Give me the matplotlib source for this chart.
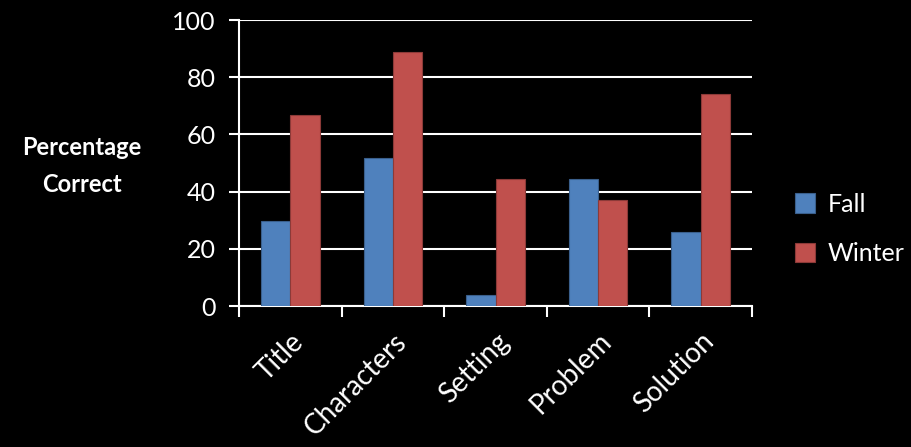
import matplotlib.pyplot as plt
import numpy as np

categories = ["Title", "Characters", "Setting", "Problem", "Solution"]
fall = [29.6, 51.9, 3.7, 44.4, 25.9]
winter = [66.7, 88.9, 44.4, 37.0, 74.1]
yticks = [0, 20, 40, 60, 80, 100]

blue = "#4F81BD"
red = "#C0504D"
font = "Lato"

fig = plt.figure(figsize=(9.11, 4.47), dpi=100, facecolor="black")
ax = fig.add_axes([239 / 911, 141 / 447, 513 / 911, 286 / 447], facecolor="black")

x = np.arange(len(categories))
w = 1 / 3.5
ax.bar(x - w / 2, fall, w, color=blue, edgecolor="#3A5F8C", linewidth=0.8, label="Fall", zorder=3)
ax.bar(x + w / 2, winter, w, color=red, edgecolor="#8C3A38", linewidth=0.8, label="Winter", zorder=3)

ax.set_xlim(-0.5, len(categories) - 0.5)
ax.set_ylim(0, 100)
ax.set_yticks(yticks)
ax.set_yticklabels([str(v) for v in yticks], fontsize=18, color="white", family=font)
ax.yaxis.grid(True, color="white", linewidth=1.5, zorder=0)
ax.tick_params(axis="y", colors="white", length=7, width=1.5, pad=10)

# category boundary ticks, labels at centres
ax.set_xticks(np.arange(-0.5, len(categories)), minor=False)
ax.set_xticklabels([])
ax.set_xticks(x, minor=True)
ax.set_xticklabels(categories, minor=True, rotation=45, ha="right",
                   rotation_mode="anchor", fontsize=20, color="white", family=font)
ax.tick_params(axis="x", which="minor", length=0, pad=16)
ax.tick_params(axis="x", which="major", colors="white", length=8, width=1.5)

for s in ["top", "right"]:
    ax.spines[s].set_visible(False)
for s in ["left", "bottom"]:
    ax.spines[s].set_color("white")
    ax.spines[s].set_linewidth(1.5)

fig.text(82 / 911, 1 - 166 / 447, "Percentage\nCorrect", color="white", fontsize=17,
         fontweight="bold", ha="center", va="center", family=font, linespacing=1.7)

leg = ax.legend(loc="center left", bbox_to_anchor=(1.04, 0.27), frameon=False,
                handlelength=0.8, handleheight=0.8, labelspacing=1.05,
                handletextpad=0.5, prop={"family": font, "size": 18})
for t in leg.get_texts():
    t.set_color("white")

fig.savefig("out.png", dpi=100, facecolor="black")
